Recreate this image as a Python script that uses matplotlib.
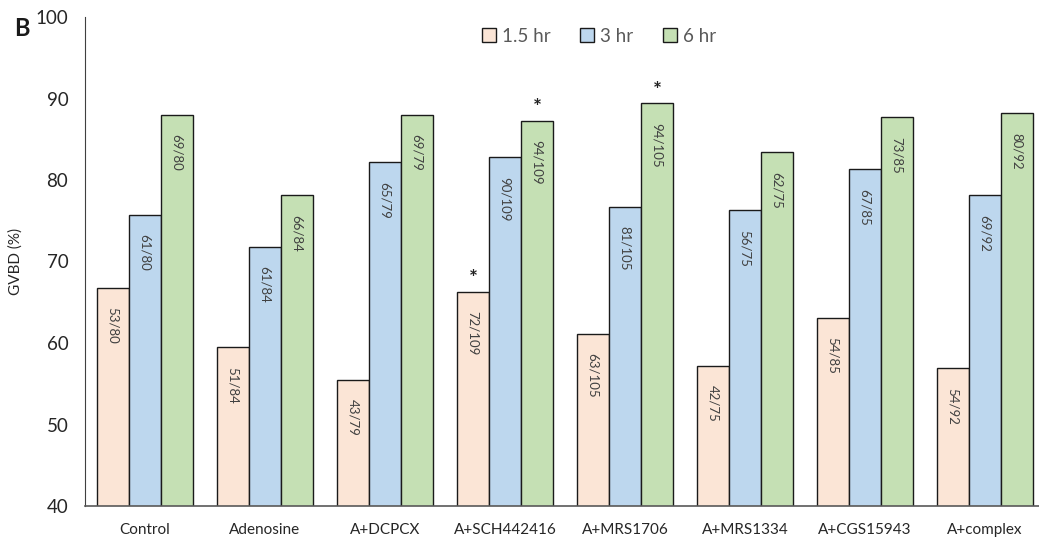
import numpy as np
import matplotlib
matplotlib.use('Agg')
import matplotlib.pyplot as plt

plt.rcParams['font.family'] = ['Lato', 'DejaVu Sans']

groups = ['Control', 'Adenosine', 'A+DCPCX', 'A+SCH442416', 'A+MRS1706',
          'A+MRS1334', 'A+CGS15943', 'A+complex']
series = ['1.5 hr', '3 hr', '6 hr']
gvbd_15 = [66.8, 59.5, 55.5, 66.3, 61.1, 57.2, 63.1, 56.9]
gvbd_3 = [75.7, 71.8, 82.2, 82.8, 76.7, 76.3, 81.3, 78.1]
gvbd_6 = [88.0, 78.1, 88.0, 87.3, 89.4, 83.4, 87.7, 88.2]
counts_15 = ['53/80', '51/84', '43/79', '72/109', '63/105', '42/75', '54/85', '54/92']
counts_3 = ['61/80', '61/84', '65/79', '90/109', '81/105', '56/75', '67/85', '69/92']
counts_6 = ['69/80', '66/84', '69/79', '94/109', '94/105', '62/75', '73/85', '80/92']
# significance marks: (group index, series index)
stars = [(3, 0), (3, 2), (4, 2)]

colors = ['#FBE5D6', '#BDD7EE', '#C5E0B4']
values = [gvbd_15, gvbd_3, gvbd_6]
counts = [counts_15, counts_3, counts_6]

fig = plt.figure(figsize=(10.39, 5.46), dpi=100)
ax = fig.add_axes([85 / 1039, 40 / 546, 954 / 1039, 489 / 546])

x = np.arange(len(groups))
w = 0.267
for i in range(3):
    xs = x + (i - 1) * w
    ax.bar(xs, values[i], w, bottom=0, color=colors[i], edgecolor='#1a1a1a',
           linewidth=1.0, label=series[i], zorder=2)
    for xi, v, c in zip(xs, values[i], counts[i]):
        ax.annotate(c, (xi, v), xytext=(0, -14), textcoords='offset points',
                    rotation=270, ha='center', va='top', fontsize=9.5,
                    color='#404040')

for g, s in stars:
    ax.annotate('*', (x[g] + (s - 1) * w, values[s][g]), xytext=(0, 2),
                textcoords='offset points', ha='center', va='bottom',
                fontsize=15, fontweight='bold', color='#222222')

ax.set_ylim(40, 100)
ax.set_xlim(-0.5, -0.5 + 954 / 120)
ax.set_yticks([40, 50, 60, 70, 80, 90, 100])
ax.set_xticks(x)
ax.set_xticklabels(groups)
ax.tick_params(axis='y', length=0, pad=12, labelsize=13.5, labelcolor='#262626')
ax.tick_params(axis='x', length=0, pad=12, labelsize=11, labelcolor='#262626')
ax.spines['top'].set_visible(False)
ax.spines['right'].set_visible(False)
ax.spines['left'].set_color('#404040')
ax.spines['bottom'].set_color('#595959')
ax.spines['bottom'].set_linewidth(1.2)
ax.set_ylabel('GVBD (%)', fontsize=11, color='#262626', labelpad=9)

leg = ax.legend(loc='upper left', bbox_to_anchor=(380 / 954, 1.013), ncol=3,
                frameon=False, fontsize=13.5, handlelength=0.75, handleheight=0.75,
                handletextpad=0.3, columnspacing=1.6, labelcolor='#595959')

fig.text(14 / 1039, 1 - 28 / 546, 'B', fontsize=17, fontweight='bold',
         color='#1a1a1a', ha='left', va='center')

fig.savefig('out.png', dpi=100)
